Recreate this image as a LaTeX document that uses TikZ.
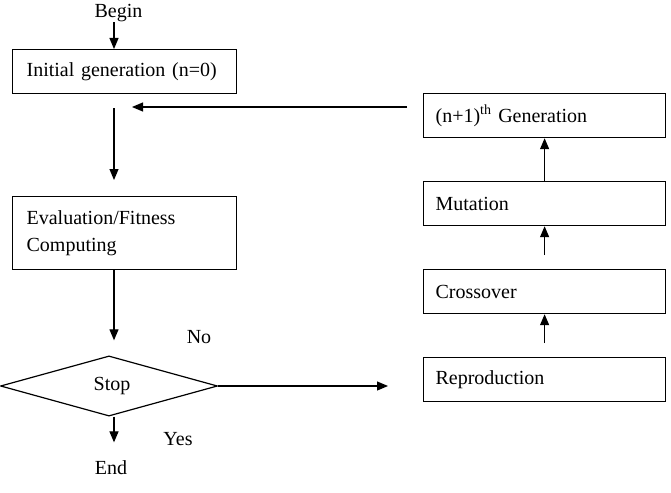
\documentclass[tikz,border=0pt]{standalone}
\usepackage{fontspec}
\setmainfont{Liberation Serif}
\usetikzlibrary{arrows.meta, positioning, shapes.geometric, calc}
\tikzset{
  every picture/.style={line width=1.2pt},
  stagebox/.style={draw, anchor=north west, align=left, minimum height=44pt, inner ysep=4pt,
    text width=#1, font=\fontsize{20}{27}\selectfont},
  stagebox/.default=196pt,
  arrow/.style={-{Triangle[length=11pt, width=9pt]}, draw=black, line width=1.2pt},
  note/.style={font=\fontsize{20}{27}\selectfont, inner sep=0pt},
}

\begin{document}
\begin{tikzpicture}[x=1pt, y=-1pt,
  decision/.style={diamond, draw, minimum width=217pt, minimum height=57pt, inner sep=0pt, font=\fontsize{20}{27}\selectfont}]
  \useasboundingbox (0,0) rectangle (671,492);
  % left column
  \coordinate (col) at (114,0);
  \node[note] (begin) at (118.5,13) {Begin};
  \node[stagebox, inner xsep=14pt, minimum width=224pt] (init) at (12,49) {Initial generation (n=0)};
  \node[stagebox, inner xsep=14pt, minimum width=224pt, minimum height=73pt] (eval) at (12,196) {Evaluation/Fitness\\Computing};
  \node[decision] (stop) at (109,386) {\hspace*{6pt}Stop};
  \node[note] (finish) at (111,468) {End};
  \node[note] at (199,337) {No};
  \node[note] at (178,439) {Yes};
  % right column
  \node[stagebox=218pt, inner xsep=12pt, minimum width=242pt] (gen) at (423,93) {(n+1)\textsuperscript{th} Generation};
  \node[stagebox=218pt, inner xsep=12pt, minimum width=242pt] (mut) at (423,181) {Mutation};
  \node[stagebox=218pt, inner xsep=12pt, minimum width=242pt] (cross) at (423,269) {Crossover};
  \node[stagebox=218pt, inner xsep=12pt, minimum width=242pt] (repro) at (423,357) {Reproduction};
  \coordinate (fb) at (114,107);
  % connectors
  \draw[arrow] (begin.south -| col) -- (init.north -| col);
  \draw[arrow, shorten <=14pt, shorten >=16pt] (init.south -| col) -- (eval.north -| col);
  \draw[arrow, shorten >=15pt] (eval.south -| col) -- (stop.north -| col);
  \draw[arrow, shorten >=18pt] (stop.south -| col) -- (finish.north -| col);
  \draw[arrow, shorten >=35pt] (stop.east) -- (stop.east -| repro.west);
  \draw[arrow, shorten <=14pt] (repro.north) -- (cross.south);
  \draw[arrow, shorten <=14pt] (cross.north) -- (mut.south);
  \draw[arrow] (mut.north) -- (gen.south);
  \draw[arrow, shorten <=16pt, shorten >=18pt] (gen.west |- fb) -- (fb);
\end{tikzpicture}
\end{document}
